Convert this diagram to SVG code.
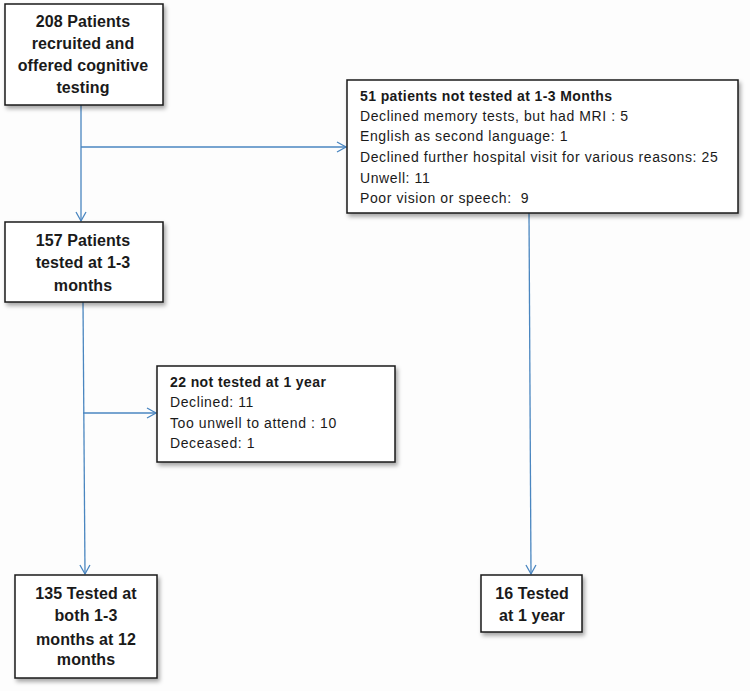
<svg xmlns="http://www.w3.org/2000/svg" width="750" height="691" viewBox="0 0 750 691">
<defs>
<style>
.box{fill:#ffffff;stroke:#1a1a1a;stroke-width:1.5;filter:url(#sh);}
.t{font-family:"Liberation Sans",Arial,sans-serif;fill:#1a1a1a;}
.main{font-size:16px;font-weight:bold;text-anchor:middle;letter-spacing:0.1px;}
.hd{font-size:14px;font-weight:bold;letter-spacing:0.4px;}
.rg{font-size:14px;letter-spacing:0.6px;}
.conn{stroke:#4a86c0;stroke-width:1.3;fill:none;marker-end:url(#ah);}
</style>
<filter id="sh" x="-10%" y="-10%" width="130%" height="140%">
<feDropShadow dx="2" dy="3" stdDeviation="2" flood-color="#000" flood-opacity="0.35"/>
</filter>
<marker id="ah" markerWidth="12" markerHeight="12" refX="10" refY="6" orient="auto" markerUnits="userSpaceOnUse">
<path d="M1,1 L10,6 L1,11" fill="none" stroke="#4a86c0" stroke-width="1.3"/>
</marker>
</defs>
<rect width="750" height="691" fill="#fdfdfd"/>
<g id="connectors">
<line class="conn" x1="81" y1="105" x2="81" y2="221"/>
<line class="conn" x1="81" y1="147" x2="346" y2="147"/>
<line class="conn" x1="83" y1="302" x2="85" y2="574"/>
<line class="conn" x1="83" y1="413" x2="156" y2="413"/>
<line class="conn" x1="529" y1="213" x2="531" y2="574"/>
</g>
<g id="n208">
<rect class="box" x="5" y="4" width="158" height="101"/>
<text class="t main" x="83" y="27">208 Patients</text>
<text class="t main" x="83" y="49">recruited and</text>
<text class="t main" x="83" y="71">offered cognitive</text>
<text class="t main" x="83" y="93">testing</text>
</g>
<g id="n157">
<rect class="box" x="5" y="222" width="158" height="80"/>
<text class="t main" x="83" y="246">157 Patients</text>
<text class="t main" x="83" y="268">tested at 1-3</text>
<text class="t main" x="83" y="291">months</text>
</g>
<g id="n51">
<rect class="box" x="347" y="80" width="391" height="133"/>
<text class="t hd" x="360" y="101">51 patients not tested at 1-3 Months</text>
<text class="t rg" x="360" y="121">Declined memory tests, but had MRI : 5</text>
<text class="t rg" x="360" y="141">English as second language: 1</text>
<text class="t rg" x="360" y="162">Declined further hospital visit for various reasons: 25</text>
<text class="t rg" x="360" y="183">Unwell: 11</text>
<text class="t rg" x="360" y="203" xml:space="preserve">Poor vision or speech:  9</text>
</g>
<g id="n22">
<rect class="box" x="157" y="366" width="238" height="96"/>
<text class="t hd" x="170" y="387">22 not tested at 1 year</text>
<text class="t rg" x="170" y="407">Declined: 11</text>
<text class="t rg" x="170" y="428">Too unwell to attend : 10</text>
<text class="t rg" x="170" y="448">Deceased: 1</text>
</g>
<g id="n135">
<rect class="box" x="15" y="575" width="142" height="103"/>
<text class="t main" x="86" y="599">135 Tested at</text>
<text class="t main" x="86" y="621">both 1-3</text>
<text class="t main" x="86" y="645">months at 12</text>
<text class="t main" x="86" y="665">months</text>
</g>
<g id="n16">
<rect class="box" x="481" y="575" width="101" height="57"/>
<text class="t main" x="532" y="599">16 Tested</text>
<text class="t main" x="532" y="621">at 1 year</text>
</g>
</svg>
